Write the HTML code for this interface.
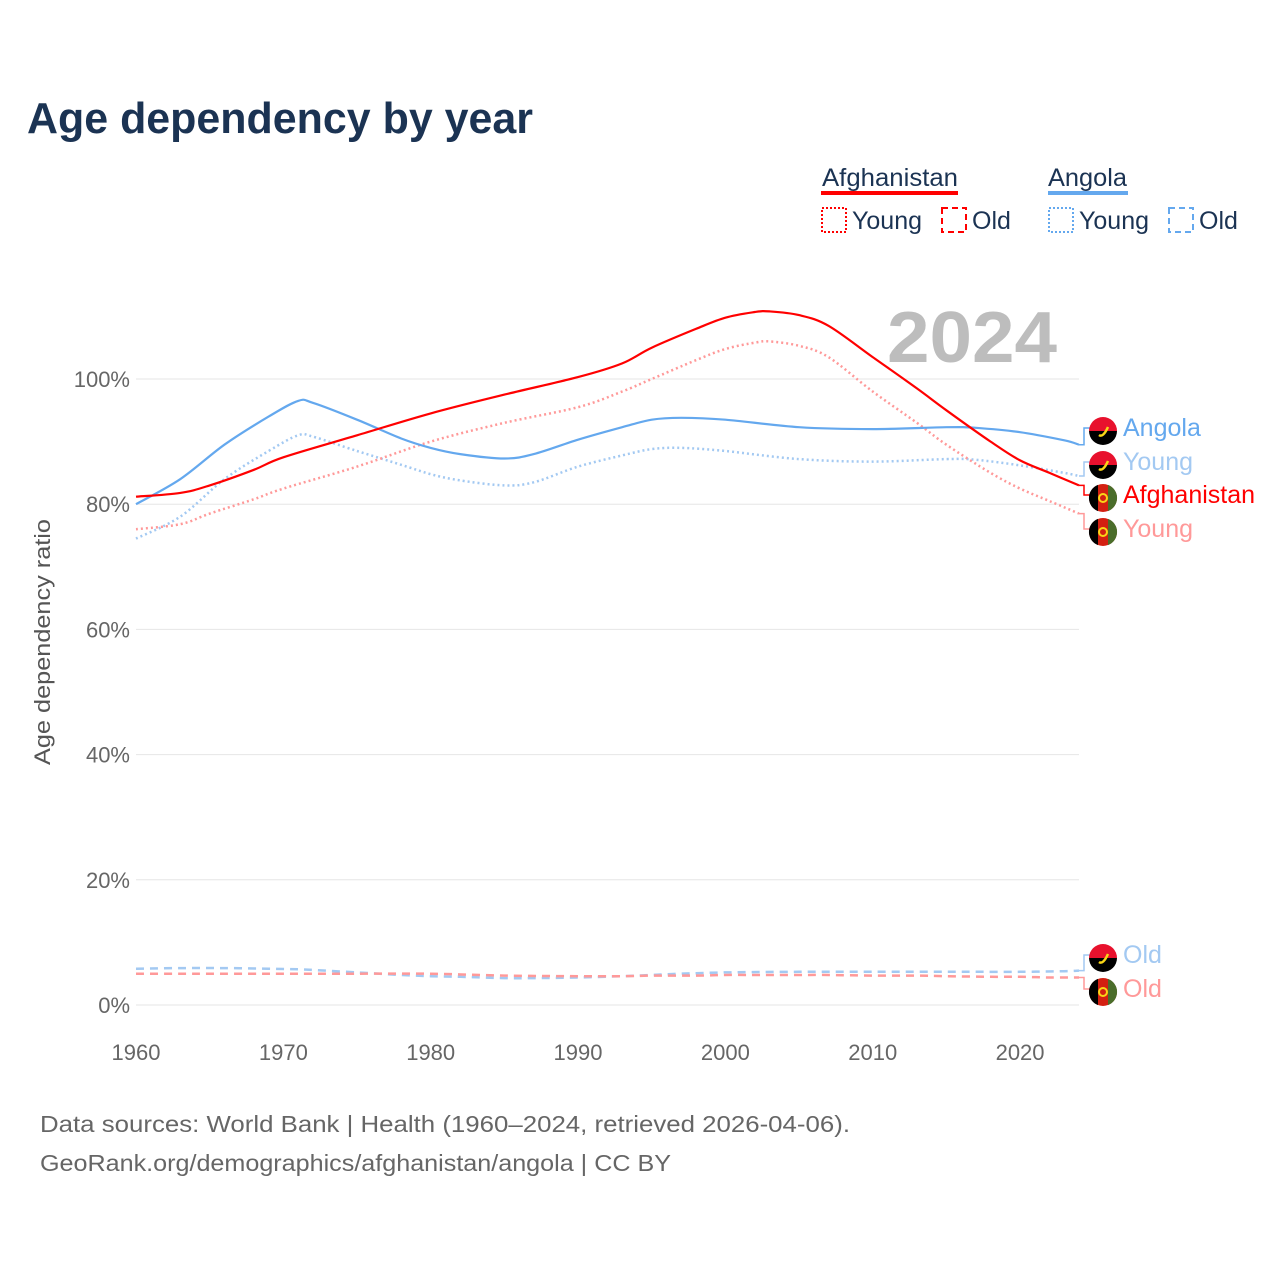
<!DOCTYPE html>
<html><head><meta charset="utf-8"><style>
body{margin:0;background:#fff;font-family:"Liberation Sans",sans-serif;}
svg text{font-family:"Liberation Sans",sans-serif;}
</style></head><body>
<svg width="1280" height="1280" xmlns="http://www.w3.org/2000/svg" id="chart">
<text x="27" y="133" font-size="44" font-weight="bold" fill="#1b3353" textLength="506" lengthAdjust="spacingAndGlyphs">Age dependency by year</text>
<g>
<text x="822" y="186" font-size="25" fill="#1b3353" textLength="136" lengthAdjust="spacingAndGlyphs">Afghanistan</text>
<line x1="821" y1="193" x2="958" y2="193" stroke="#ff0000" stroke-width="4"/>
<rect x="822" y="208" width="24" height="24" fill="none" stroke="#ff0000" stroke-width="2" stroke-dasharray="2,2"/>
<text x="852" y="229" font-size="25" fill="#1b3353">Young</text>
<rect x="942" y="208" width="24" height="24" fill="none" stroke="#ff0000" stroke-width="2" stroke-dasharray="6,4"/>
<text x="972" y="229" font-size="25" fill="#1b3353">Old</text>
<text x="1048" y="186" font-size="25" fill="#1b3353" textLength="79" lengthAdjust="spacingAndGlyphs">Angola</text>
<line x1="1048" y1="193" x2="1128" y2="193" stroke="#64a8ee" stroke-width="4"/>
<rect x="1049" y="208" width="24" height="24" fill="none" stroke="#64a8ee" stroke-width="2" stroke-dasharray="2,2"/>
<text x="1079" y="229" font-size="25" fill="#1b3353">Young</text>
<rect x="1169" y="208" width="24" height="24" fill="none" stroke="#64a8ee" stroke-width="2" stroke-dasharray="6,4"/>
<text x="1199" y="229" font-size="25" fill="#1b3353">Old</text>
</g>
<text x="1057" y="362" font-size="72" font-weight="bold" fill="#bdbdbd" text-anchor="end" textLength="170" lengthAdjust="spacingAndGlyphs">2024</text>
<g id="grid"></g>
<g id="series"></g>
<g id="labels"></g>
<text transform="translate(50,642) rotate(-90)" font-size="22" fill="#555" text-anchor="middle" textLength="246" lengthAdjust="spacingAndGlyphs">Age dependency ratio</text>
<text x="40" y="1132" font-size="23" fill="#666" textLength="810" lengthAdjust="spacingAndGlyphs">Data sources: World Bank | Health (1960–2024, retrieved 2026-04-06).</text>
<text x="40" y="1171" font-size="23" fill="#666" textLength="631" lengthAdjust="spacingAndGlyphs">GeoRank.org/demographics/afghanistan/angola | CC BY</text>
</svg>
<script>
const yTicks=[0,20,40,60,80,100];
const xTicks=[1960,1970,1980,1990,2000,2010,2020];
const afgYears=[1960,1963,1965,1968,1970,1975,1980,1985,1990,1993,1995,1998,2000,2002,2003,2005,2007,2010,2013,2015,2018,2020,2022,2024];
const afgTotal=[81.2,81.8,83,85.5,87.5,91,94.5,97.5,100.3,102.5,105,108,109.8,110.7,110.8,110.2,108.5,103.5,98.5,95,90,87,85,83];
const afgYoung=[76,76.8,78.5,80.8,82.5,86,90,93,95.5,98,100,103,104.8,105.8,106,105.3,103.5,98,93,89.5,85,82.5,80.5,78.5];
const afgOld=[5,5,5,5,5,5,5,4.7,4.6,4.6,4.7,4.7,4.8,4.8,4.8,4.8,4.8,4.7,4.7,4.6,4.5,4.5,4.4,4.4];
const angYears=[1960,1963,1966,1969,1971,1972,1975,1978,1980,1982,1985,1987,1990,1993,1995,1997,2000,2005,2010,2015,2017,2020,2023,2024];
const angTotal=[80,84,89.5,94,96.5,96.2,93.5,90.5,89,88,87.3,88,90.3,92.3,93.5,93.8,93.5,92.3,92,92.3,92.2,91.5,90.2,89.5];
const angYoung=[74.5,78,84,88.5,91,90.8,88.5,86.3,84.8,83.8,83,83.5,86,87.8,88.8,89,88.5,87.2,86.8,87.2,87.1,86.2,85,84.5];
const angOld=[5.8,5.9,5.9,5.8,5.7,5.6,5.2,4.8,4.6,4.5,4.3,4.3,4.4,4.6,4.8,5,5.2,5.3,5.3,5.3,5.3,5.3,5.4,5.5];
const NS="http://www.w3.org/2000/svg";
function X(yr){return 136+(yr-1960)*(1079-136)/64;}
function Y(v){return 1005-v*6.26;}
function el(t,a,p){const e=document.createElementNS(NS,t);for(const k in a)e.setAttribute(k,a[k]);p.appendChild(e);return e;}
const grid=document.getElementById('grid');
yTicks.forEach(v=>{
 const l=el('line',{x1:136,x2:1079,y1:Y(v),y2:Y(v),stroke:'#e6e6e6','stroke-width':1},grid);
 
 
 const t=el('text',{x:130,y:Y(v)+8,'font-size':22,fill:'#666','text-anchor':'end'},grid);
 t.textContent=v+'%';
 
 
});
xTicks.forEach(v=>{
 const t=el('text',{x:X(v),y:1060,'font-size':22,fill:'#666','text-anchor':'middle'},grid);
 t.textContent=v;
 
 
});
const S=document.getElementById('series');
function path(yrs,vals){
 const p=yrs.map((y,i)=>[X(y),Y(vals[i])]);
 let d='M'+p[0][0].toFixed(1)+','+p[0][1].toFixed(1);
 for(let i=0;i<p.length-1;i++){
  const p0=p[Math.max(0,i-1)],p1=p[i],p2=p[i+1],p3=p[Math.min(p.length-1,i+2)];
  const c1=[p1[0]+(p2[0]-p0[0])/6,p1[1]+(p2[1]-p0[1])/6];
  const c2=[p2[0]-(p3[0]-p1[0])/6,p2[1]-(p3[1]-p1[1])/6];
  d+=' C'+c1[0].toFixed(1)+','+c1[1].toFixed(1)+' '+c2[0].toFixed(1)+','+c2[1].toFixed(1)+' '+p2[0].toFixed(1)+','+p2[1].toFixed(1);
 }
 return d;
}
function line(yrs,vals,col,dash,w,name){
 const p=el('path',{d:path(yrs,vals),fill:'none',stroke:col,'stroke-width':w,'stroke-dasharray':dash,'stroke-linejoin':'round'},S);
 
 
}
line(angYears,angOld,'#a3c9f2','8,6',2.5,'angola-old-line');
line(afgYears,afgOld,'#ff9999','8,6',2.5,'afghanistan-old-line');
line(angYears,angYoung,'#a3c9f2','2,3',2.5,'angola-young-line');
line(afgYears,afgYoung,'#ff9999','2,3',2.5,'afghanistan-young-line');
line(angYears,angTotal,'#64a8ee','',2.2,'angola-total-line');
line(afgYears,afgTotal,'#ff0000','',2.2,'afghanistan-total-line');
const L=document.getElementById('labels');
function flag(cx,cy,country,g){
 if(country==='ang'){
  el('path',{d:`M${cx-14},${cy} A14,14 0 0 1 ${cx+14},${cy} Z`,fill:'#e8112d'},g);
  el('path',{d:`M${cx-14},${cy} A14,14 0 0 0 ${cx+14},${cy} Z`,fill:'#000'},g);
  el('path',{d:`M${cx-4},${cy+4} Q${cx},${cy+7} ${cx+5},${cy-4}`,fill:'none',stroke:'#f9d616','stroke-width':2.5},g);
 }else{
  el('circle',{cx:cx,cy:cy,r:14,fill:'#d32011'},g);
  el('path',{d:`M${cx-5},${cy-13.1} A14,14 0 0 0 ${cx-5},${cy+13.1} Z`,fill:'#000'},g);
  el('path',{d:`M${cx+5},${cy-13.1} A14,14 0 0 1 ${cx+5},${cy+13.1} Z`,fill:'#4a6d2a'},g);
  el('circle',{cx:cx,cy:cy,r:4,fill:'none',stroke:'#f9d616','stroke-width':2},g);
 }
}
function label(val,ly,txt,col,country,name){
 const g=el('g',{},L);
 
 
 const yv=Y(val);
 el('path',{d:`M1079,${yv} L1084,${yv} L1084,${ly} L1090,${ly}`,fill:'none',stroke:col,'stroke-width':1.5},g);
 flag(1103,ly+3,country,g);
 const t=el('text',{x:1123,y:ly+8,'font-size':25,fill:col},g);
 t.textContent=txt;
}
label(angTotal[angTotal.length-1],428,'Angola','#64a8ee','ang','label-angola');
label(angYoung[angYoung.length-1],462,'Young','#a3c9f2','ang','label-angola-young');
label(afgTotal[afgTotal.length-1],495,'Afghanistan','#ff0000','afg','label-afghanistan');
label(afgYoung[afgYoung.length-1],529,'Young','#ff9999','afg','label-afghanistan-young');
label(angOld[angOld.length-1],955,'Old','#a3c9f2','ang','label-angola-old');
label(afgOld[afgOld.length-1],989,'Old','#ff9999','afg','label-afghanistan-old');
</script>
</body></html>
